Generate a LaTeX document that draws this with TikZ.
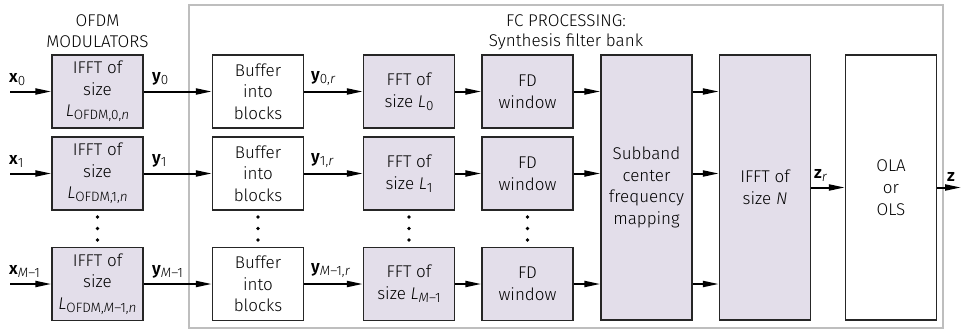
\documentclass[tikz,border=0pt]{standalone}
\usepackage{fontspec}
\setmainfont{Fira Sans Light}[BoldFont={Fira Sans SemiBold}, ItalicFont={Fira Sans Light Italic}]
\usetikzlibrary{arrows.meta}
\definecolor{lav}{RGB}{227,222,234}
\definecolor{framegray}{RGB}{190,190,190}
\newcommand{\sbs}[1]{\raisebox{-3pt}{\fontsize{13.5}{13.5}\selectfont #1}}
\newcommand{\vb}[2]{\textbf{#1}\sbs{#2}}
\begin{document}
\begin{tikzpicture}[x=1pt,y=-1pt,
  blk/.style={draw=black!85, line width=1.3pt, minimum width=91pt, minimum height=73pt, inner sep=0pt, align=center, font=\fontsize{17}{21.7}\selectfont},
  shaded/.style={blk, fill=lav},
  tall/.style={minimum height=265pt},
  sig/.style={line width=2pt, -{Triangle[length=16pt,width=6pt]}},
  lbl/.style={anchor=south west, inner sep=0pt, font=\fontsize{17}{20}\selectfont},
  ttl/.style={font=\fontsize{17}{21}\selectfont, inner sep=0pt},
  dotn/.style={circle, fill=black, inner sep=0pt, minimum size=3.8pt}]
\useasboundingbox (0,0) rectangle (961,329);
% frame
\node[draw=framegray, line width=1.5pt, minimum width=754pt, minimum height=323pt, inner sep=0pt] (frame) at (566,166.5) {};
% titles
\node[ttl] (t1) at (97.5,21) {OFDM};
\node[ttl] (t2) at (97.5,42) {MODULATORS};
\node[ttl] (t3) at (566,21) {FC PROCESSING:};
\node[ttl] (t4) at (566,42) {Synthesis filter bank};
% OFDM modulators
\node[shaded] (m0) at (97.5,91.5) {IFFT of\\size\\\textit{L}\sbs{OFDM,0,\textit{n}}};
\node[shaded] (m1) at (97.5,173.5) {IFFT of\\size\\\textit{L}\sbs{OFDM,1,\textit{n}}};
\node[shaded] (m2) at (97.5,284) {IFFT of\\size\\\textit{L}\sbs{OFDM,\textit{M}–1,\textit{n}}};
% buffers
\node[blk] (b0) at (258,91.5) {Buffer\\into\\blocks};
\node[blk] (b1) at (258,173.5) {Buffer\\into\\blocks};
\node[blk] (b2) at (258,284) {Buffer\\into\\blocks};
% FFTs
\node[shaded] (f0) at (409,91.5) {FFT of\\size \textit{L}\sbs{0}};
\node[shaded] (f1) at (409,173.5) {FFT of\\size \textit{L}\sbs{1}};
\node[shaded] (f2) at (409,284) {FFT of\\size \textit{L}\sbs{\textit{M}–1}};
% FD windows
\node[shaded] (w0) at (527.5,91.5) {FD\\window};
\node[shaded] (w1) at (527.5,173.5) {FD\\window};
\node[shaded] (w2) at (527.5,284) {FD\\window};
% tall blocks
\node[shaded, tall] (sub) at (646.5,187.5) {Subband\\center\\frequency\\mapping};
\node[shaded, tall] (ifn) at (765,187.5) {IFFT of\\size \textit{N}};
\node[blk, tall] (ola) at (891,187.5) {OLA\\or\\OLS};
% dots
\foreach \c/\x in {m/97.5,b/258,f/409,w/527.5}{
  \node[dotn] (\c d1) at (\x,217) {};
  \node[dotn] (\c d2) at (\x,228.5) {};
  \node[dotn] (\c d3) at (\x,240) {};
}
% inputs
\coordinate (i0) at (10,91.5);
\coordinate (i1) at (10,173.5);
\coordinate (i2) at (10,284);
\coordinate (zout) at (961,187.5);
\foreach \k in {0,1,2}{
  \draw[sig] (i\k) -- (m\k.west);
  \draw[sig] (m\k.east) -- (b\k.west);
  \draw[sig] (b\k.east) -- (f\k.west);
  \draw[sig] (f\k.east) -- (w\k.west);
  \draw[sig] (w\k.east) -- (sub.west |- w\k.east);
  \draw[sig] (sub.east |- w\k.east) -- (ifn.west |- w\k.east);
}
\draw[sig] (ifn.east) -- (ola.west);
\draw[sig] (ola.east) -- (zout);
% labels
\node[lbl] (lx0) at (9,85.5) {\vb{x}{0}};
\node[lbl] (lx1) at (9,167.5) {\vb{x}{1}};
\node[lbl] (lx2) at (9,278) {\vb{x}{\textit{M}–1}};
\node[lbl] (ly0) at (152,85.5) {\vb{y}{0}};
\node[lbl] (ly1) at (152,167.5) {\vb{y}{1}};
\node[lbl] (ly2) at (152,278) {\vb{y}{\textit{M}–1}};
\node[lbl] (lr0) at (311,85.5) {\vb{y}{0,\textit{r}}};
\node[lbl] (lr1) at (311,167.5) {\vb{y}{1,\textit{r}}};
\node[lbl] (lr2) at (311,278) {\vb{y}{\textit{M}–1,\textit{r}}};
\node[lbl] (lz) at (814,181.5) {\vb{z}{\textit{r}}};
\node[lbl] (lzo) at (947,181.5) {\textbf{z}};
\end{tikzpicture}
\end{document}
